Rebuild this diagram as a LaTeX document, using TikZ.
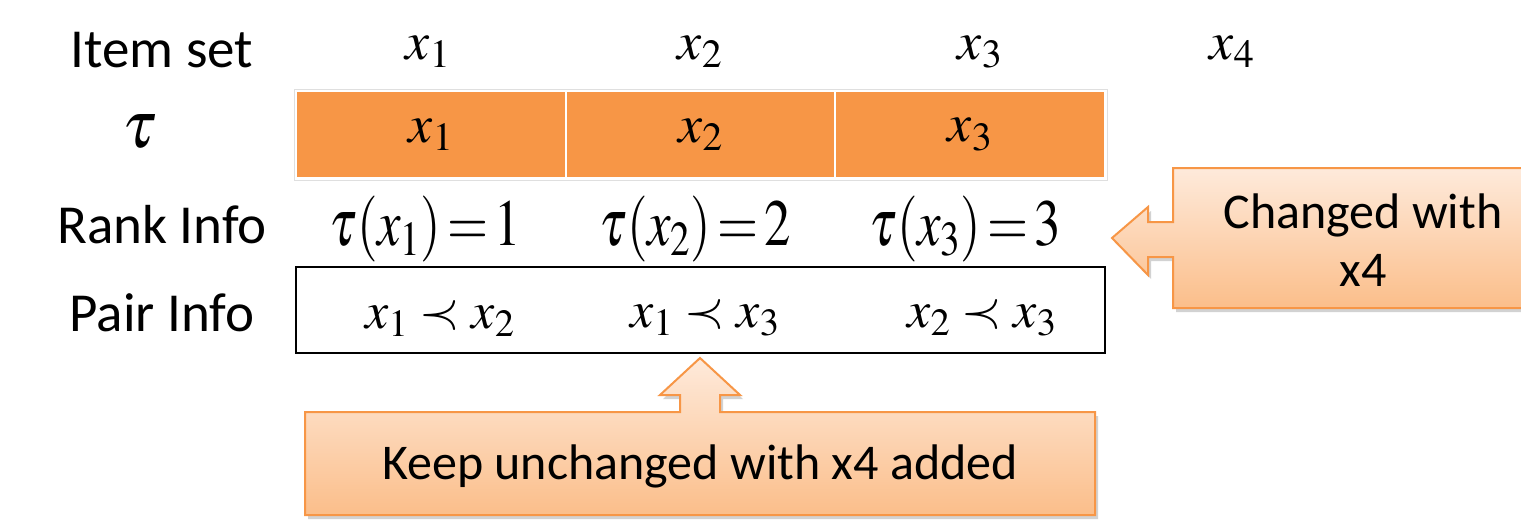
\documentclass[tikz,border=0pt]{standalone}
\usepackage{mathptmx}
\usepackage{fontspec}
\setmainfont{Carlito}
\usetikzlibrary{shadows}
\definecolor{accent}{HTML}{F79646}
\definecolor{calltop}{HTML}{FEEADB}
\definecolor{callbot}{HTML}{FBBE8A}
\newcommand{\rankexpr}[2]{\scalebox{0.8}[1]{$\tau(x_{#1})\!=\!#2$}}
\begin{document}
\begin{tikzpicture}[x=1pt,y=-1pt,
  lbl/.style={font=\fontsize{55}{60}\selectfont, inner sep=0pt},
  mth/.style={font=\fontsize{54}{58}\selectfont, inner sep=0pt},
  rmth/.style={font=\fontsize{66}{70}\selectfont, inner sep=0pt},
  pmth/.style={font=\fontsize{52}{56}\selectfont, inner sep=0pt},
  calltext/.style={font=\fontsize{50}{58}\selectfont, inner sep=0pt, align=center},
  callshape/.style={draw=accent, line width=2pt, top color=calltop, bottom color=callbot,
    drop shadow={shadow xshift=3pt, shadow yshift=-4pt, opacity=0.35}},
  cell/.style={fill=accent, draw=white, line width=2pt, minimum width=269.5pt,
    minimum height=87pt, inner sep=0pt, font=\fontsize{54}{58}\selectfont}
]
\useasboundingbox (0,0) rectangle (1521,522);
\fill[white] (0,0) rectangle (1521,522);

% left labels
\node[lbl] (itemset) at (162,50) {Item set};
\node[inner sep=0pt, font=\fontsize{66}{70}\selectfont] (taulbl) at (140,132) {$\tau$};
\node[lbl] (rankinfo) at (162,225) {Rank Info};
\node[lbl] (pairinfo) at (162,313) {Pair Info};

% item set row
\node[mth] (i1) at (428,52) {$x_1$};
\node[mth] (i2) at (700,52) {$x_2$};
\node[mth] (i3) at (980,52) {$x_3$};
\node[mth] (i4) at (1232,52) {$x_4$};

% tau row
\draw[gray!25, line width=1pt] (294,89) rectangle (1107,180);
\node[cell] (c1) at (431,134.5) {$x_1$};
\node[cell] (c2) at (700.5,134.5) {$x_2$};
\node[cell] (c3) at (970,134.5) {$x_3$};

% rank info row
\node[rmth] (r1) at (425,229) {\rankexpr{1}{1}};
\node[rmth] (r2) at (695,229) {\rankexpr{2}{2}};
\node[rmth] (r3) at (965,229) {\rankexpr{3}{3}};

% pair info row
\node[draw=black, line width=1.6pt, minimum width=809pt, minimum height=86pt, inner sep=0pt] (pairbox) at (700.5,310) {};
\node[pmth] (p1) at (440,318) {$x_1 \prec x_2$};
\node[pmth] (p2) at (705,318) {$x_1 \prec x_3$};
\node[pmth] (p3) at (982,318) {$x_2 \prec x_3$};

% right callout
\path[callshape] (1173,168) -- (1540,168) -- (1540,308) -- (1173,308) -- (1173,257)
  -- (1148,257) -- (1148,275) -- (1112,238) -- (1148,207) -- (1148,222) -- (1173,222) -- cycle;
\node[calltext] (changed) at (1363,240) {Changed with\\x4};

% bottom callout
\path[callshape] (305,412) -- (680,412) -- (680,395) -- (660,395) -- (700,358) -- (740,395)
  -- (720,395) -- (720,412) -- (1095,412) -- (1095,515) -- (305,515) -- cycle;
\node[calltext] (keep) at (700,466) {Keep unchanged with x4 added};
\end{tikzpicture}
\end{document}
